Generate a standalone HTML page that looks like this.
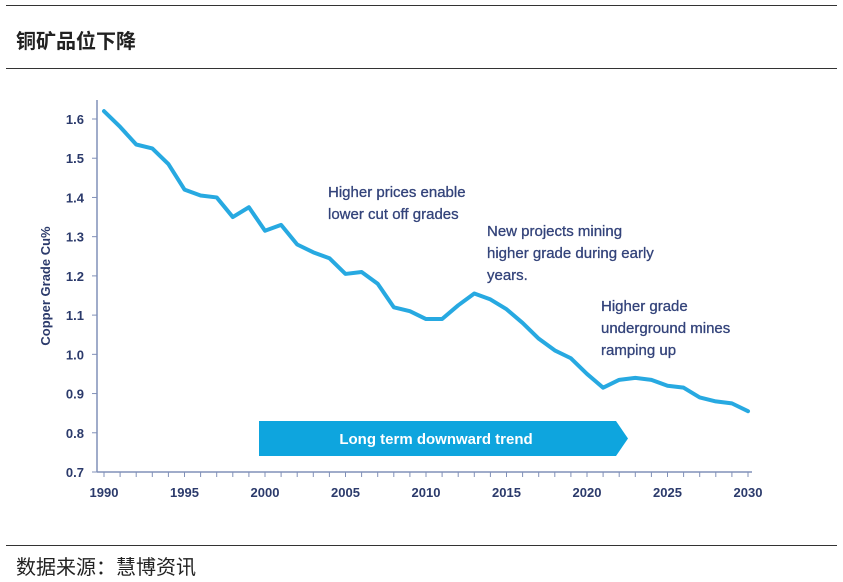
<!DOCTYPE html>
<html><head><meta charset="utf-8"><style>
body{margin:0;background:#fff;width:843px;height:582px;overflow:hidden;font-family:"Liberation Sans","Noto Sans CJK SC",sans-serif;}
.hr{position:absolute;left:6px;width:831px;height:1px;background:#333;}
</style></head><body>
<div class="hr" style="top:5px"></div>
<div style="position:absolute;left:16px;top:25px;font-size:20px;font-weight:bold;color:#222;">铜矿品位下降</div>
<div class="hr" style="top:68px"></div>
<div class="hr" style="top:545px"></div>
<div style="position:absolute;left:16px;top:551px;font-size:20px;color:#222;">数据来源：慧博资讯</div>
<svg id="c" width="843" height="582" style="position:absolute;left:0;top:0"></svg>
<script>
const years=[1990,1991,1992,1993,1994,1995,1996,1997,1998,1999,2000,2001,2002,2003,2004,2005,2006,2007,2008,2009,2010,2011,2012,2013,2014,2015,2016,2017,2018,2019,2020,2021,2022,2023,2024,2025,2026,2027,2028,2029,2030];
const grades=[1.62,1.58,1.535,1.525,1.485,1.42,1.405,1.40,1.35,1.375,1.315,1.33,1.28,1.26,1.245,1.205,1.21,1.18,1.12,1.11,1.09,1.09,1.125,1.155,1.14,1.115,1.08,1.04,1.01,0.99,0.95,0.915,0.935,0.94,0.935,0.92,0.915,0.89,0.88,0.875,0.855];
const yTicks=[0.7,0.8,0.9,1.0,1.1,1.2,1.3,1.4,1.5,1.6];
const xTickLabels=[1990,1995,2000,2005,2010,2015,2020,2025,2030];
const X=v=>104+(v-1990)*(748-104)/40;
const Y=v=>472-(v-0.7)*(472-119)/0.9;
const svg=document.getElementById('c');const NS='http://www.w3.org/2000/svg';
function mk(t,a,txt){const e=document.createElementNS(NS,t);for(const k in a)e.setAttribute(k,a[k]);if(txt!=null)e.textContent=txt;svg.appendChild(e);return e;}
const navy='#2b3a6b';
let e=mk('line',{x1:97,y1:100,x2:97,y2:472,stroke:'#8090b8','stroke-width':1.5});

e=mk('line',{x1:97,y1:472,x2:752,y2:472,stroke:'#8090b8','stroke-width':1.5});

yTicks.forEach(v=>{
 const t=mk('line',{x1:92,x2:97,y1:Y(v),y2:Y(v),stroke:'#8090b8'});
 
 const l=mk('text',{x:84,y:Y(v)+5,'text-anchor':'end','font-size':13,'font-weight':'bold',fill:navy},v.toFixed(1));
 
});
years.forEach(y=>{
 const t=mk('line',{x1:X(y),x2:X(y),y1:472,y2:477,stroke:'#8090b8'});
 
});
xTickLabels.forEach(y=>{
 const l=mk('text',{x:X(y),y:497,'text-anchor':'middle','font-size':13,'font-weight':'bold',fill:navy},y);
 
});
e=mk('text',{x:0,y:0,transform:'translate(50,286) rotate(-90)','text-anchor':'middle','font-size':13,'font-weight':'bold',fill:navy},'Copper Grade Cu%');

e=mk('polygon',{points:'259,421 616,421 628,438.5 616,456 259,456',fill:'#0ea5de'});

e=mk('text',{x:436,y:444,'text-anchor':'middle','font-size':15,'font-weight':'bold',fill:'#fff'},'Long term downward trend');

e=mk('polyline',{points:years.map((y,i)=>X(y)+','+Y(grades[i])).join(' '),fill:'none',stroke:'#27a9e1','stroke-width':4,'stroke-linejoin':'round','stroke-linecap':'round'});

const notes=[[328,197,['Higher prices enable','lower cut off grades']],[487,236,['New projects mining','higher grade during early','years.']],[601,311,['Higher grade','underground mines','ramping up']]];
notes.forEach(n=>{n[2].forEach((s,i)=>{
 const t=mk('text',{x:n[0],y:n[1]+i*22,'font-size':15,fill:'#33437a',stroke:'#33437a','stroke-width':0.3},s);
 
});});
</script>
</body></html>
